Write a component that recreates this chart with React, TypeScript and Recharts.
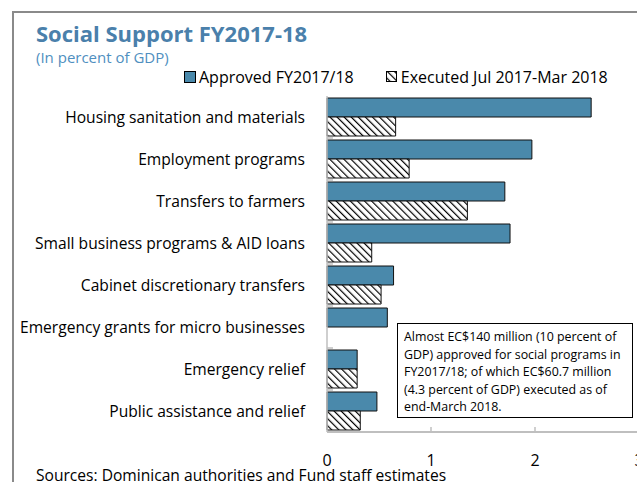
import React from "react"
import { BarChart, Bar, XAxis, YAxis } from "recharts"

// values in percent of GDP
const categories = [
  "Housing sanitation and materials",
  "Employment programs",
  "Transfers to farmers",
  "Small business programs & AID loans",
  "Cabinet discretionary transfers",
  "Emergency grants for micro businesses",
  "Emergency relief",
  "Public assistance and relief",
]
const approved = [2.54, 1.97, 1.71, 1.76, 0.64, 0.58, 0.29, 0.48]
const executed = [0.66, 0.79, 1.35, 0.43, 0.52, 0, 0.29, 0.32]
const xTicks = [0, 1, 2, 3]

const data = categories.map((name, i) => ({ name, approved: approved[i], executed: executed[i] }))

const FONT = "'Open Sans', sans-serif"
const BLUE = "#4a89ab"
const GRID = "#bfbfbf"

function YTick(props: any) {
  const { x, y, payload } = props
  return (
    <g>
      <text x={x - 22} y={y} textAnchor="end" dominantBaseline="central" fontSize={15.6} fill="#000" fontFamily={FONT}>
        {payload.value}
      </text>
      <line x1={x} x2={x + 6} y1={y + 21} y2={y + 21} stroke={GRID} strokeWidth={1.5} />
    </g>
  )
}

function XTick(props: any) {
  const { x, y, payload } = props
  return (
    <g>
      {payload.value > 0 && <line x1={x} x2={x} y1={y} y2={y - 5} stroke={GRID} strokeWidth={1.5} />}
      <text x={x} y={y + 28} textAnchor="middle" dominantBaseline="central" fontSize={16} fill="#000" fontFamily={FONT}>
        {payload.value}
      </text>
    </g>
  )
}

export default function App() {
  return (
    <div style={{ position: "absolute", left: 0, top: 0, width: 637, height: 482, overflow: "hidden", background: "#fff", fontFamily: FONT }}>
      <svg width={0} height={0} style={{ position: "absolute" }}>
        <defs>
          <pattern id="hatch" patternUnits="userSpaceOnUse" width={5} height={5} patternTransform="rotate(-45)">
            <rect width={5} height={5} fill="#fff" />
            <line x1={0} y1={0} x2={0} y2={5} stroke="#000" strokeWidth={2.4} />
          </pattern>
        </defs>
      </svg>
      <div style={{ position: "absolute", left: 12, top: 11, width: 800, height: 800, borderLeft: "2px solid #8a8a8a", borderTop: "2px solid #8a8a8a" }} />
      <div style={{ position: "absolute", left: 36, top: 18, fontSize: 22, fontWeight: 700, color: "#4a80ab", whiteSpace: "nowrap" }}>
        Social Support FY2017-18
      </div>
      <div style={{ position: "absolute", left: 36, top: 47, fontSize: 15, color: "#4f8fc0", whiteSpace: "nowrap" }}>
        (In percent of GDP)
      </div>
      <div style={{ position: "absolute", left: 184, top: 66, fontSize: 16, whiteSpace: "nowrap", display: "flex", alignItems: "center" }}>
        <span style={{ display: "inline-block", width: 10, height: 10, background: BLUE, border: "1px solid #000", marginRight: 3 }} />
        <span>Approved FY2017/18</span>
        <svg width={12} height={12} style={{ marginLeft: 32, marginRight: 3 }}>
          <rect x={0.5} y={0.5} width={10} height={10} fill="url(#hatch)" stroke="#000" />
        </svg>
        <span>Executed Jul 2017-Mar 2018</span>
      </div>
      <div style={{ position: "absolute", left: 0, top: 0 }}>
        <BarChart
          width={660}
          height={482}
          data={data}
          layout="vertical"
          margin={{ top: 96, right: 21, bottom: 0, left: 0 }}
          barCategoryGap={2}
          barGap={0}
        >
          <XAxis xAxisId="top" orientation="top" type="number" domain={[0, 3]} height={0} tick={false} tickLine={false} axisLine={{ stroke: GRID, strokeWidth: 1.5 }} />
          <XAxis
            type="number"
            domain={[0, 3]}
            ticks={xTicks}
            height={50}
            tickSize={0}
            tickMargin={0}
            tickLine={false}
            axisLine={{ stroke: GRID, strokeWidth: 2 }}
            tick={<XTick />}
            interval={0}
          />
          <YAxis
            type="category"
            dataKey="name"
            width={327}
            tickSize={0}
            tickMargin={0}
            tickLine={false}
            axisLine={{ stroke: GRID, strokeWidth: 1.5 }}
            tick={<YTick />}
            interval={0}
          />
          <Bar dataKey="approved" fill={BLUE} stroke="#111" strokeWidth={1} isAnimationActive={false} />
          <Bar dataKey="executed" fill="url(#hatch)" stroke="#111" strokeWidth={1} isAnimationActive={false} />
        </BarChart>
      </div>
      <div style={{ position: "absolute", left: 397, top: 323, width: 236, height: 95, boxSizing: "border-box", border: "1px solid #000", background: "#fff", padding: "4px 6px", fontSize: 12.4, lineHeight: "17.5px" }}>
        Almost EC$140 million (10 percent of GDP) approved for social programs in FY2017/18; of which EC$60.7 million (4.3 percent of GDP) executed as of end-March 2018.
      </div>
      <div style={{ position: "absolute", left: 36, top: 464, fontSize: 15.6, whiteSpace: "nowrap" }}>
        Sources: Dominican authorities and Fund staff estimates
      </div>
    </div>
  )
}
